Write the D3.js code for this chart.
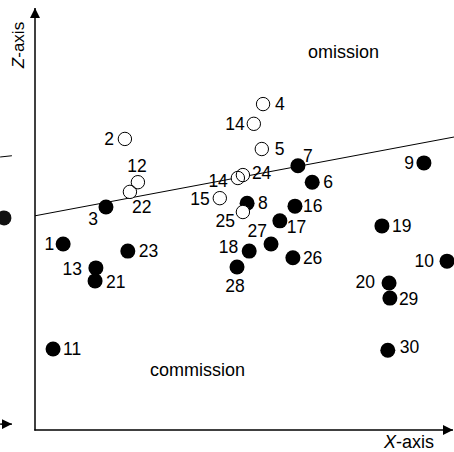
<!DOCTYPE html>
<html>
<head>
<meta charset="utf-8">
<script src="https://cdn.jsdelivr.net/npm/d3@7"></script>
<style>
  body { margin: 0; background: #fff; }
  svg text { font-family: "Liberation Sans", Arial, Helvetica, sans-serif; fill: #000; }
</style>
</head>
<body>
<div id="chart"></div>
<script>
// point data, x and z in plot units 0..10
var ids     = ["1","2","3","4","5","6","7","8","9","10","11","12","13","14","15",
               "16","17","18","19","20","21","22","23","24","25","26","27","28","29","30","14"];
var xValues = [0.67,2.14,1.69,5.43,5.40,6.60,6.26,5.05,9.26,9.81,0.43,2.45,1.45,5.21,4.40,
               6.19,5.83,5.10,8.26,8.43,1.43,2.26,2.21,4.95,4.95,6.14,5.62,4.81,8.45,8.40,4.83];
var zValues = [4.43,6.93,5.31,7.76,6.69,5.90,6.29,5.40,6.36,4.02,1.93,5.90,3.86,7.29,5.52,
               5.33,4.98,4.26,4.86,3.50,3.55,5.67,4.26,6.07,5.19,4.10,4.43,3.88,3.14,1.90,6.00];
var isOpen  = [0,1,0,1,1,0,0,0,0,0,0,1,0,1,1,
               0,0,0,0,0,0,1,0,1,1,0,0,0,0,0,1];

// fitted line end points
var fitX = [0, 10];
var fitZ = [5.10, 6.98];

// bits of the neighbouring panel that show at the left edge
var edgeLineX = [-0.83, -0.55], edgeLineZ = [6.50, 6.53];
var edgeDotX = [-0.74], edgeDotZ = [5.05];
var edgeArrowX = [-0.83, -0.55], edgeArrowZ = 0.14;

// label placement: [dx, dy, anchor] per point
var place = [
  [-9,6,"end"],[-11,6,"end"],[-8,18,"end"],[12,6,"start"],[13,6,"start"],
  [11,6,"start"],[5,-4,"start"],[11,6,"start"],[-10,6,"end"],[-13,6,"end"],
  [10,6,"start"],[-1,-10,"middle"],[-14,7,"end"],[-9,6,"end"],[-10,7,"end"],
  [8,6,"start"],[7,12,"start"],[-11,2,"end"],[10,6,"start"],[-14,5,"end"],
  [11,7,"start"],[2,21,"start"],[11,6,"start"],[9,4,"start"],[-8,15,"end"],
  [10,6,"start"],[-4,-7,"end"],[-2,25,"middle"],[9,7,"start"],[12,3,"start"],
  [-10,9,"end"]
];

var W = 454, H = 452;
var originX = 35, originY = 430;

var x = d3.scaleLinear().domain([0, 10]).range([originX, originX + 420]);
var y = d3.scaleLinear().domain([0, 10]).range([originY, originY - 420]);

var svg = d3.select("#chart").append("svg")
    .attr("width", W).attr("height", H);

// arrow marker
svg.append("defs").append("marker")
    .attr("id", "arr")
    .attr("viewBox", "0 0 10 10")
    .attr("refX", 10).attr("refY", 5)
    .attr("markerWidth", 10).attr("markerHeight", 10)
    .attr("markerUnits", "userSpaceOnUse")
    .attr("orient", "auto")
  .append("path").attr("d", "M0,0 L10,5 L0,10 z").attr("fill", "#000");

// axes
svg.append("line")
    .attr("x1", originX).attr("y1", originY + 0.5)
    .attr("x2", originX).attr("y2", 8)
    .attr("stroke", "#000").attr("stroke-width", 1.5)
    .attr("marker-end", "url(#arr)");
svg.append("line")
    .attr("x1", originX - 0.7).attr("y1", originY)
    .attr("x2", 453).attr("y2", originY)
    .attr("stroke", "#000").attr("stroke-width", 1.5)
    .attr("marker-end", "url(#arr)");

svg.append("text")
    .attr("transform", "translate(24,45) rotate(-90)")
    .attr("text-anchor", "middle")
    .style("font-size", "17px")
    .html('<tspan font-style="italic">Z</tspan>-axis');
svg.append("text")
    .attr("x", 409).attr("y", 448)
    .attr("text-anchor", "middle")
    .style("font-size", "18px")
    .html('<tspan font-style="italic">X</tspan>-axis');

svg.append("text").attr("x", 308).attr("y", 58)
    .style("font-size", "18px").text("omission");
svg.append("text").attr("x", 150).attr("y", 376)
    .style("font-size", "18px").text("commission");

// neighbouring panel remnants
svg.append("line")
    .attr("x1", x(edgeLineX[0])).attr("y1", y(edgeLineZ[0]))
    .attr("x2", x(edgeLineX[1])).attr("y2", y(edgeLineZ[1]))
    .attr("stroke", "#000").attr("stroke-width", 1);
svg.selectAll(".edgedot").data(edgeDotX).enter().append("circle")
    .attr("cx", function(d) { return x(d); })
    .attr("cy", function(d, i) { return y(edgeDotZ[i]); })
    .attr("r", 7.5).attr("fill", "#111");
svg.append("line")
    .attr("x1", x(edgeArrowX[0])).attr("y1", y(edgeArrowZ))
    .attr("x2", x(edgeArrowX[1])).attr("y2", y(edgeArrowZ))
    .attr("stroke", "#000").attr("stroke-width", 1.5)
    .attr("marker-end", "url(#arr)");

// fitted line
svg.append("line")
    .attr("x1", x(fitX[0])).attr("y1", y(fitZ[0]))
    .attr("x2", x(fitX[1])).attr("y2", y(fitZ[1]))
    .attr("stroke", "#000").attr("stroke-width", 1);

var pts = ids.map(function(id, i) {
  return {id: id, x: xValues[i], z: zValues[i], open: isOpen[i] === 1, p: place[i]};
});

// filled points
svg.selectAll(".filled").data(pts.filter(function(d) { return !d.open; }))
  .enter().append("circle")
    .attr("class", "filled")
    .attr("cx", function(d) { return x(d.x); })
    .attr("cy", function(d) { return y(d.z); })
    .attr("r", 7.5).attr("fill", "#000");

// open points: white fill first, then all outlines so overlaps stay visible
var openPts = pts.filter(function(d) { return d.open; });
svg.selectAll(".openfill").data(openPts).enter().append("circle")
    .attr("cx", function(d) { return x(d.x); })
    .attr("cy", function(d) { return y(d.z); })
    .attr("r", 6.7).attr("fill", "#fff");
svg.selectAll(".openline").data(openPts).enter().append("circle")
    .attr("cx", function(d) { return x(d.x); })
    .attr("cy", function(d) { return y(d.z); })
    .attr("r", 6.7).attr("fill", "none")
    .attr("stroke", "#000").attr("stroke-width", 1);

// number labels
svg.selectAll(".lab").data(pts).enter().append("text")
    .attr("x", function(d) { return x(d.x) + d.p[0]; })
    .attr("y", function(d) { return y(d.z) + d.p[1]; })
    .attr("text-anchor", function(d) { return d.p[2]; })
    .style("font-size", "17.5px")
    .text(function(d) { return d.id; });
</script>
</body>
</html>
